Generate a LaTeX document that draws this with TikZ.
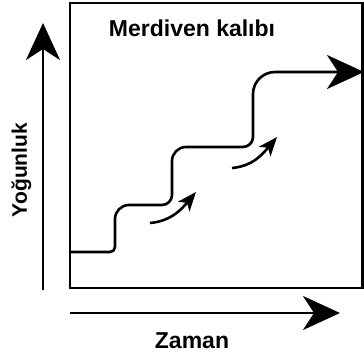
\documentclass[tikz,border=0pt]{standalone}
\usepackage{fontspec}
\setmainfont{Liberation Sans}
\usetikzlibrary{arrows.meta}
\pgfdeclarelayer{edgelayer}
\pgfdeclarelayer{nodelayer}
\pgfsetlayers{edgelayer,nodelayer,main}
\tikzstyle{none}=[inner sep=0pt]
\tikzstyle{textlabel}=[inner sep=0pt, anchor=base, font=\bfseries\fontsize{23}{27}\selectfont]
\tikzstyle{edge}=[draw=black, line width=2.6pt]
\tikzstyle{bigarrow}=[edge, -{Stealth[length=37pt, width=34pt, inset=11pt]}]
\tikzstyle{smallarrow}=[edge, -{Stealth[length=19pt, width=15pt, inset=5pt]}]

\begin{document}
\begin{tikzpicture}[x=1pt, y=1pt]
				\useasboundingbox (0,0) rectangle (364,353);
				\begin{pgfonlayer}{nodelayer}
					\node [style=textlabel] (0) at (192, 316) {Merdiven kalıbı};
					\node [style=textlabel] (1) at (192, 4) {Zaman};
					\node [style=textlabel, rotate=90, font=\bfseries\fontsize{21}{25}\selectfont] (2) at (27, 183) {Yoğunluk};
					\coordinate (3) at (70, 350);
					\coordinate (4) at (362.5, 65);
					\coordinate (5) at (43, 63);
					\coordinate (6) at (43, 330);
					\coordinate (7) at (70, 40);
					\coordinate (8) at (340, 40);
					\coordinate (10) at (70, 101);
					\coordinate (11) at (115, 101);
					\coordinate (12) at (115, 148);
					\coordinate (13) at (172, 148);
					\coordinate (14) at (172, 206);
					\coordinate (15) at (253, 206);
					\coordinate (16) at (253, 281);
					\coordinate (17) at (364, 281);
					\coordinate (18) at (150, 130);
					\coordinate (19) at (196, 161);
					\coordinate (20) at (232, 185);
					\coordinate (21) at (277, 216);
				\end{pgfonlayer}
				\begin{pgfonlayer}{edgelayer}
					\draw [style=edge] (3) rectangle (4);
					\draw [style=bigarrow] (5) to (6);
					\draw [style=bigarrow] (7) to (8);
					\draw [style=bigarrow] (10) [rounded corners=5pt] -- (11) [rounded corners=14pt] -- (12) [rounded corners=10pt] -- (13) [rounded corners=14pt] -- (14) [rounded corners=10pt] -- (15) [rounded corners=22pt] -- (16) -- (17);
					\draw [style=smallarrow] (18) to [out=5, in=230] (19);
					\draw [style=smallarrow] (20) to [out=5, in=230] (21);
				\end{pgfonlayer}
			\end{tikzpicture}
\end{document}
